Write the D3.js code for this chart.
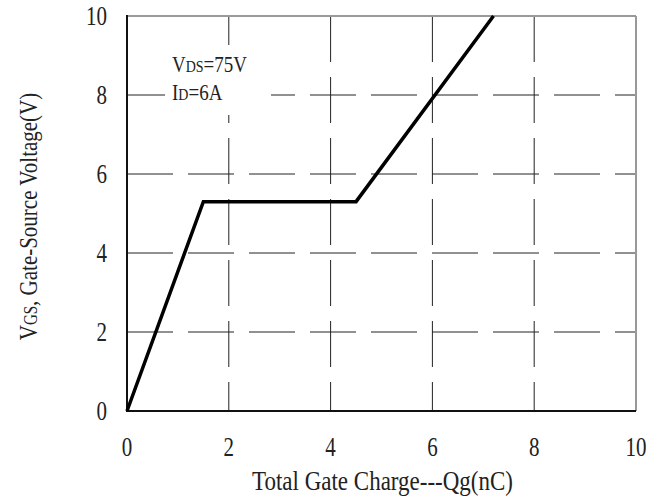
<!DOCTYPE html>
<html>
<head>
<meta charset="utf-8">
<script src="https://cdn.jsdelivr.net/npm/d3@7"></script>
<style>
  body { margin: 0; background: #fff; }
  svg text { font-family: "Liberation Serif", "Times New Roman", serif; fill: #222; }
</style>
</head>
<body>
<div id="chart"></div>
<script>
// gate charge curve
var qg = [0, 1.5, 4.5, 7.2];
var vgs = [0, 5.3, 5.3, 10];
var xTicks = [0, 2, 4, 6, 8, 10];
var yTicks = [0, 2, 4, 6, 8, 10];

var width = 660, height = 497;
var margin = {left: 127, top: 16, right: 24, bottom: 86};
var w = width - margin.left - margin.right;
var h = height - margin.top - margin.bottom;

var svg = d3.select('#chart').append('svg')
  .attr('width', width).attr('height', height);
var g = svg.append('g').attr('transform', `translate(${margin.left},${margin.top})`);

var x = d3.scaleLinear().domain([0, 10]).range([0, w]);
var y = d3.scaleLinear().domain([0, 10]).range([h, 0]);

// the original font is tall and narrow, so stretch text vertically
function place(px, py, sy) {
  return `translate(${px},${py}) scale(1,${sy})`;
}

// dashed grid
g.selectAll('.vgrid').data(xTicks.slice(1, -1)).enter().append('line')
  .attr('x1', d => x(d)).attr('x2', d => x(d))
  .attr('y1', 0).attr('y2', h)
  .attr('stroke', '#222').attr('stroke-width', 1)
  .attr('stroke-dasharray', '46,15');
g.selectAll('.hgrid').data(yTicks.slice(1, -1)).enter().append('line')
  .attr('x1', 0).attr('x2', w)
  .attr('y1', d => y(d)).attr('y2', d => y(d))
  .attr('stroke', '#222').attr('stroke-width', 1)
  .attr('stroke-dasharray', '46,15');

// box behind the test conditions
g.append('rect').attr('x', 38).attr('y', 29).attr('width', 106).attr('height', 70).attr('fill', '#fff');

// frame: top/right grey, left/bottom black
g.append('line').attr('x1', 0).attr('x2', w).attr('y1', 0).attr('y2', 0).attr('stroke', '#999').attr('stroke-width', 2);
g.append('line').attr('x1', w).attr('x2', w).attr('y1', 0).attr('y2', h).attr('stroke', '#999').attr('stroke-width', 2);
g.append('line').attr('x1', 0).attr('x2', 0).attr('y1', -1).attr('y2', h + 1).attr('stroke', '#111').attr('stroke-width', 2);
g.append('line').attr('x1', 0).attr('x2', w).attr('y1', h).attr('y2', h).attr('stroke', '#111').attr('stroke-width', 2);

// curve
var line = d3.line().x(d => x(d[0])).y(d => y(d[1]));
g.append('path').datum(qg.map((q, i) => [q, vgs[i]]))
  .attr('d', line).attr('fill', 'none')
  .attr('stroke', '#000').attr('stroke-width', 3.5)
  .attr('stroke-linejoin', 'miter');

// tick labels
g.selectAll('.xt').data(xTicks).enter().append('text')
  .attr('transform', d => place(x(d), h + 45, 1.3))
  .attr('text-anchor', 'middle').style('font-size', '21px')
  .text(d => d);
g.selectAll('.yt').data(yTicks).enter().append('text')
  .attr('transform', d => place(-20, y(d) + 9, 1.3))
  .attr('text-anchor', 'end').style('font-size', '21px')
  .text(d => d);

// test conditions
var t1 = g.append('text').attr('transform', place(45, 56, 1.2)).style('font-size', '19px');
t1.append('tspan').text('V');
t1.append('tspan').style('font-size', '14px').text('DS');
t1.append('tspan').text('=75V');
var t2 = g.append('text').attr('transform', place(45, 84, 1.2)).style('font-size', '19px');
t2.append('tspan').text('I');
t2.append('tspan').style('font-size', '14px').text('D');
t2.append('tspan').text('=6A');

// axis titles
svg.append('text')
  .attr('transform', place(margin.left + w / 2 + 1, 490, 1.2))
  .attr('text-anchor', 'middle').style('font-size', '23px')
  .text('Total Gate Charge---Qg(nC)');

var yt = svg.append('text')
  .attr('transform', `translate(37,${margin.top + h / 2 + 3}) rotate(-90) scale(1,1.2)`)
  .attr('text-anchor', 'middle').style('font-size', '21px');
yt.append('tspan').text('V');
yt.append('tspan').style('font-size', '15px').text('GS');
yt.append('tspan').text(', Gate-Source Voltage(V)');
</script>
</body>
</html>
